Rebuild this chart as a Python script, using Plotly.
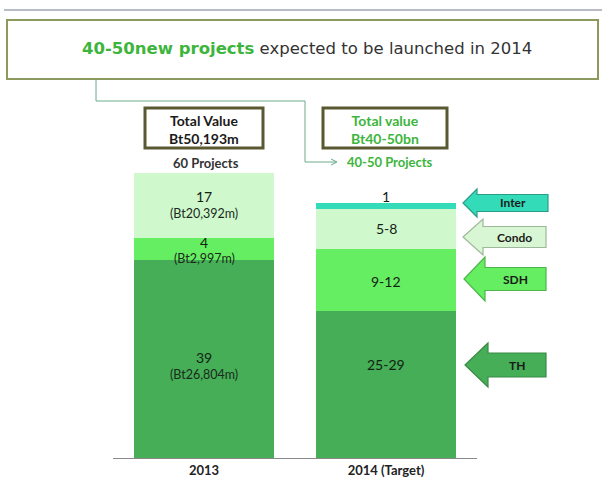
import plotly.graph_objects as go

W, H = 602, 480

# ---- data ----
years = ["2013", "2014 (Target)"]
# drawn segment heights (chart units)
th_h = [198, 147]
sdh_h = [22, 62]
condo_h = [65, 40]
inter_h = [0, 6]
# segment labels
th_lbl = [("39", "(Bt26,804m)"), ("25-29", "")]
sdh_lbl = [("4", "(Bt2,997m)"), ("9-12", "")]
condo_lbl = [("17", "(Bt20,392m)"), ("5-8", "")]
inter_lbl = ["", "1"]
project_lbl = ["60 Projects", "40-50 Projects"]
total_lbl = ["Total Value<br>Bt50,193m", "Total value<br>Bt40-50bn"]
title_green = "40-50new projects"
title_rest = " expected to be launched in 2014"
arrow_names = ["Inter", "Condo", "SDH", "TH"]

C_TH, C_SDH, C_CONDO, C_INTER = "#45ae56", "#66ee62", "#cff8cd", "#33dbb8"

def px(x):
    return x / W

def py(y):
    return 1 - y / H

fig = go.Figure()
for name, vals, col in [("TH", th_h, C_TH), ("SDH", sdh_h, C_SDH),
                        ("Condo", condo_h, C_CONDO), ("Inter", inter_h, C_INTER)]:
    fig.add_trace(go.Bar(x=years, y=vals, name=name, marker=dict(color=col, line=dict(width=0)),
                         width=0.765, hoverinfo="skip"))

annos = []
shapes = []
num_font = dict(family="Lato", size=14, color="#142214")
sub_font = dict(family="Lato", size=12.5, color="#1c2a1c")

def ann(**kw):
    d = dict(showarrow=False, xanchor="center", yanchor="middle")
    d.update(kw)
    annos.append(d)

for i, yr in enumerate(years):
    base = 0
    # (height, labels, extra shift, half gap between the two lines)
    segs = [(th_h[i], th_lbl[i], 20 if i == 1 else -7, 8.5),
            (sdh_h[i], sdh_lbl[i], -1, 8),
            (condo_h[i], condo_lbl[i], 1, 8.5)]
    for h, (main, sub), shift, gap in segs:
        mid = base + h / 2
        if sub:
            ann(x=i, y=mid, xref="x", yref="y", text=main, font=num_font, yshift=shift + gap)
            ann(x=i, y=mid, xref="x", yref="y", text=sub, font=sub_font, yshift=shift - gap)
        else:
            ann(x=i, y=mid, xref="x", yref="y", text=main, font=num_font, yshift=shift)
        base += h
    if inter_h[i] > 0:
        base += inter_h[i]
        ann(x=i, y=base, xref="x", yref="y", text=inter_lbl[i], yshift=7, font=num_font)

# ---- decorations: title box, connector, total value boxes ----
shapes.append(dict(type="line", xref="paper", yref="paper", x0=px(4), x1=px(602), y0=py(10), y1=py(10),
                   line=dict(color="#b9bcc6", width=2)))
shapes.append(dict(type="rect", xref="paper", yref="paper", x0=px(7), x1=px(598), y0=py(79), y1=py(20),
                   line=dict(color="#8d9a5e", width=2), fillcolor="white"))
ann(xref="paper", yref="paper", x=px(307), y=py(49),
    text=f"<b><span style='color:#3db53d'>{title_green}</span></b>{title_rest}",
    font=dict(family="DejaVu Sans", size=16.5, color="#333333"))
conn = f"M {px(96)} {py(79)} L {px(96)} {py(101)} L {px(305)} {py(101)} L {px(305)} {py(162)} L {px(336)} {py(162)}"
shapes.append(dict(type="path", xref="paper", yref="paper", path=conn, line=dict(color="#6aaa8a", width=1)))
shapes.append(dict(type="path", xref="paper", yref="paper",
                   path=f"M {px(331)} {py(159)} L {px(337)} {py(162)} L {px(331)} {py(165)}",
                   line=dict(color="#6aaa8a", width=1)))

boxes = [(145, 263, "#1a1a1a"), (323, 447, "#3db53d")]
for (x0, x1, tc), t in zip(boxes, total_lbl):
    shapes.append(dict(type="rect", xref="paper", yref="paper", x0=px(x0), x1=px(x1), y0=py(148), y1=py(108),
                       line=dict(color="#5a5830", width=3), fillcolor="white"))
    ann(xref="paper", yref="paper", x=px((x0 + x1) / 2), y=py(129),
        text=f"<b>{t}</b>", font=dict(family="Lato", size=14, color=tc))
ann(xref="paper", yref="paper", x=px(206), y=py(163),
    text=f"<b>{project_lbl[0]}</b>", font=dict(family="Lato", size=13, color="#333333"))
ann(xref="paper", yref="paper", x=px(390), y=py(162),
    text=f"<b>{project_lbl[1]}</b>", font=dict(family="Lato", size=13, color="#3db53d"))

# ---- callout arrows ----
arrow_geo = [  # tip_x, cy, head_base_x, right_x, head_half, body_half
    (463, 203, 477, 548, 14, 8.5),
    (463, 237, 483, 546, 18, 10.5),
    (464, 279, 485, 546, 22, 11.5),
    (465, 365, 488, 546, 22, 12),
]
arrow_cols = [(C_INTER, "#2a9d86"), ("#d9f6d4", "#9db89b"), (C_SDH, "#4db54a"), (C_TH, "#3a8a48")]
for (tx, cy, hb, rx, hh, bh), (fc, lc), nm in zip(arrow_geo, arrow_cols, arrow_names):
    p = (f"M {px(tx)} {py(cy)} L {px(hb)} {py(cy - hh)} L {px(hb)} {py(cy - bh)} L {px(rx)} {py(cy - bh)} "
         f"L {px(rx)} {py(cy + bh)} L {px(hb)} {py(cy + bh)} L {px(hb)} {py(cy + hh)} Z")
    shapes.append(dict(type="path", xref="paper", yref="paper", path=p, fillcolor=fc,
                       line=dict(color=lc, width=1.2)))
    ann(xref="paper", yref="paper", x=px((hb + rx) / 2), y=py(cy),
        text=f"<b>{nm}</b>", font=dict(family="Lato", size=12, color="#1a1a1a"))

fig.update_layout(
    width=W, height=H, margin=dict(l=0, r=0, t=0, b=0, pad=0),
    barmode="stack", bargap=0, showlegend=False,
    paper_bgcolor="white", plot_bgcolor="white",
    xaxis=dict(domain=[px(113), px(477)], range=[-0.5, 1.5], type="category",
               tickvals=years, ticktext=[f"<b>{y}</b>" for y in years],
               tickfont=dict(family="Lato", size=13, color="#222222"),
               showline=True, linecolor="#8a8a8a", linewidth=1, ticks="", showgrid=False,
               zeroline=False, fixedrange=True),
    yaxis=dict(domain=[22 / H, 1], range=[0, 458], visible=False, showgrid=False, fixedrange=True),
    shapes=shapes, annotations=annos,
)
fig.write_html("out.html", config={"displayModeBar": False},
               post_script="document.body.style.margin='0';document.body.style.overflow='hidden';")
